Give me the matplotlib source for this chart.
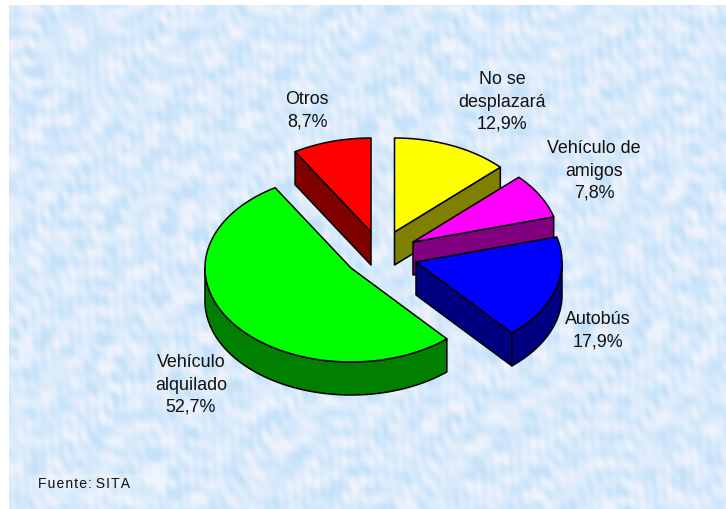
"""Exploded 3D pie of transport modes, drawn as projected polygons on a pixel axes."""
import matplotlib
matplotlib.use("Agg")
import matplotlib.pyplot as plt
import numpy as np
from matplotlib.patches import Polygon, Rectangle

W, H = 726, 509

categories = ["No se\ndesplazará", "Vehículo de\namigos", "Autobús",
              "Vehículo\nalquilado", "Otros"]
shares = [12.9, 7.8, 17.9, 52.7, 8.7]

top_colors = ["#ffff00", "#ff00ff", "#0000ff", "#00ff00", "#ff0000"]
side_colors = ["#808000", "#800080", "#000080", "#007f00", "#800000"]
# apex of each slice in pixels, after the explosion
apexes = [(394.5, 232), (413, 242), (416, 262), (351, 268), (371, 232)]
label_pos = [(502, 102), (594, 171), (598, 331), (191, 385), (307, 111)]

RX, RY, DEPTH = 146, 94, 33
LW = 1.1


def rim(apex, a0, a1):
    """Points of the top rim between two clockwise angles from 12 o'clock."""
    t = np.radians(np.linspace(a0, a1, max(int(abs(a1 - a0)), 2) + 1))
    return np.column_stack([apex[0] + RX * np.sin(t), apex[1] - RY * np.cos(t)])


def background():
    # mottled paper look: many crossed waves, deterministic so no noise source is needed
    y, x = np.mgrid[0:H - 5, 0:W - 9]
    v = np.zeros(x.shape, dtype=float)
    for k in range(40):
        ang = k * 2.39996
        wave = 9 + 40 * ((k * 0.618) % 1)
        phase = k * k * 0.37
        v += np.sin((x * np.cos(ang) + y * np.sin(ang)) * 2 * np.pi / wave + phase)
    v = np.clip(0.5 + v / (4.0 * v.std()), 0, 1)
    low = np.array([0.78, 0.89, 0.98])
    high = np.array([0.93, 0.95, 0.99])
    return low + (high - low) * v[..., None]


fig = plt.figure(figsize=(W / 100, H / 100), dpi=100, facecolor="white")
ax = fig.add_axes([0, 0, 1, 1])
plt.rcParams["font.family"] = ["Liberation Sans", "DejaVu Sans"]

ax.imshow(background(), extent=(9, W, H, 5), aspect="auto", interpolation="bilinear", zorder=0)
ax.set_xlim(0, W)
ax.set_ylim(H, 0)
ax.axis("off")
ax.add_patch(Rectangle((35, 474), 130, 31, fc="white", ec="none", alpha=0.2, zorder=1))

# slices run clockwise from 12 o'clock; painter's order back to front
edges = np.cumsum([0] + shares) / sum(shares) * 360
order = [4, 0, 1, 2, 3]
for z, i in enumerate(order):
    a0, a1 = edges[i], edges[i + 1]
    apex = np.array(apexes[i], dtype=float)
    kw = dict(ec="black", lw=LW, joinstyle="round", zorder=2 + z)
    side = dict(kw, fc=side_colors[i])
    # radial walls that face the viewer
    for ang, visible in ((a0, 180 < a0 < 360), (a1, 0 < a1 < 180)):
        if visible:
            p = rim(apex, ang, ang)[0]
            ax.add_patch(Polygon([apex, p, p + (0, DEPTH), apex + (0, DEPTH)], **side))
    # outer wall, front half of the ellipse only
    lo, hi = max(a0, 90), min(a1, 270)
    if lo < hi:
        arc = rim(apex, lo, hi)
        ax.add_patch(Polygon(np.vstack([arc, arc[::-1] + (0, DEPTH)]), **side))
    ax.add_patch(Polygon(np.vstack([apex, rim(apex, a0, a1)]), fc=top_colors[i], **kw))

for name, val, (x, y) in zip(categories, shares, label_pos):
    txt = name + "\n" + f"{val:.1f}".replace(".", ",") + "%"
    ax.text(x, y, txt, ha="center", va="center", fontsize=12.9, linespacing=1.42,
            color="#111111", zorder=20)

# source note is letterspaced in the original
ax.text(38, 484, "\u200a".join("Fuente:") + " " + "\u200a".join("SITA"),
        fontsize=10, va="center", ha="left", color="#111111", zorder=20)

fig.savefig("out.png", dpi=100)
plt.close(fig)
